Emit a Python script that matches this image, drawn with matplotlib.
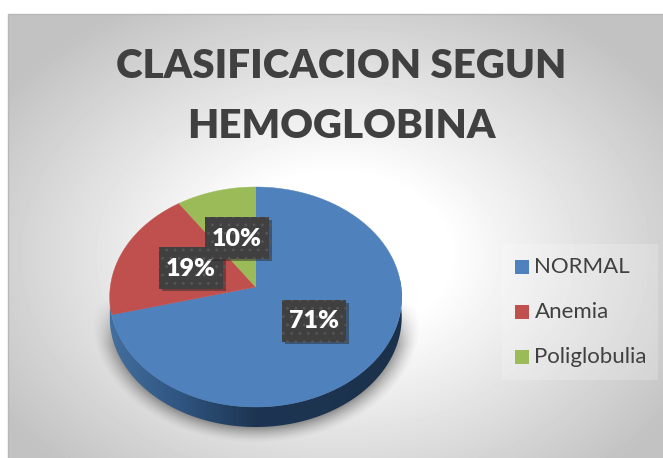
import numpy as np
import matplotlib
matplotlib.use('Agg')
import matplotlib.pyplot as plt
import matplotlib.patheffects as pe
from matplotlib.colors import LinearSegmentedColormap
from matplotlib.patches import Polygon, Rectangle

plt.rcParams['font.family'] = ['Lato', 'DejaVu Sans']
plt.rcParams['hatch.linewidth'] = 0.8

title_lines = ['CLASIFICACION SEGUN', 'HEMOGLOBINA']
categories = ['NORMAL', 'Anemia', 'Poliglobulia']
values = [71.0, 19.4, 9.6]
colors = ['#4f81bd', '#c0504d', '#9bbb59']

# pixel positions of the pie on the canvas
apex_x, apex_y = 255.7, 287.0
persp = 1 / 11
scale_x, scale_y = 145.4, 109.1
depth = 20


def rim(t):
    # t is clockwise from the top, in degrees, with a slight perspective
    t = np.radians(t)
    xx, yy = np.sin(t), np.cos(t)
    w = 1 + persp * yy
    return apex_x + scale_x * xx / w, apex_y - scale_y * yy / w


fig = plt.figure(figsize=(6.63, 4.58), dpi=100)
ax = fig.add_axes([0, 0, 1, 1])
ax.set_xlim(0, 663)
ax.set_ylim(458, 0)
ax.axis('off')

# background with radial gradient
gx, gy = np.meshgrid(np.arange(8, 663), np.arange(14, 458))
dist = np.sqrt(((gx - 335) / 400) ** 2 + ((gy - 255) / 290) ** 2)
grey = np.clip(1.0 - 0.24 * np.clip((dist - 0.28) / 0.72, 0, 1), 0, 1)
ax.imshow(grey, extent=(8, 663, 458, 14), cmap='gray', vmin=0, vmax=1,
          aspect='auto', zorder=0)
ax.plot([8, 8, 663], [458, 14, 14], color='#b8b8b8', lw=1, zorder=1)

# soft shadow under the pie, fades out towards the top
sx, sy = np.meshgrid(np.arange(90, 425), np.arange(290, 445))
d = np.sqrt(((sx - 256) / 156) ** 2 + ((sy - 320) / 116) ** 2)
shadow = np.zeros(d.shape + (4,))
shadow[..., 3] = 0.38 * np.clip((1.06 - d) / 0.14, 0, 1) ** 1.5 * np.clip((sy - 300) / 45, 0, 1)
ax.imshow(shadow, extent=(90, 425, 445, 290), aspect='auto', zorder=2)

# side wall of the pie, only the front is visible
t_side = np.linspace(80, 262, 200)
top_x, top_y = rim(t_side)
side_xy = np.vstack([np.column_stack([top_x, top_y]),
                     np.column_stack([top_x[::-1], top_y[::-1] + depth])])
side_cmap = LinearSegmentedColormap.from_list(
    'side', ['#44709f', '#2f5580', '#1d3552', '#1c3450', '#1b304a'])
side_im = ax.imshow(np.linspace(0, 1, 300).reshape(1, -1), cmap=side_cmap,
                    extent=(105, 405, 440, 280), aspect='auto', zorder=3)
side_im.set_clip_path(Polygon(side_xy, transform=ax.transData))

# top of the pie
start = 0.0
for val, col in zip(values, colors):
    stop = start + val / sum(values) * 360
    rx, ry = rim(np.linspace(start, stop, 200))
    ax.add_patch(Polygon(np.column_stack([np.r_[apex_x, rx], np.r_[apex_y, ry]]),
                         facecolor=col, edgecolor=col, lw=0.3, zorder=4))
    start = stop

# data labels, dark boxes with a dotted pattern
label_boxes = [(282, 300), (159, 247), (205, 217)]
for i, (val, (bx, by)) in enumerate(zip(values, label_boxes)):
    box = Rectangle((bx, by), 64, 41.5, facecolor='#404040', edgecolor='#565656',
                    hatch='..', lw=0, zorder=5 + i)
    box.set_path_effects([pe.SimplePatchShadow(offset=(2, -2), shadow_rgbFace='#222222',
                                               alpha=0.45), pe.Normal()])
    ax.add_patch(box)
    ax.text(bx + 32, by + 21.5, f'{val:.0f}%', color='white', fontsize=18,
            fontweight='heavy', ha='center', va='center', zorder=5 + i)

# title
for line, y in zip(title_lines, [67, 127]):
    ax.text(341, y, line, color='#404040', fontsize=29, fontweight='heavy',
            ha='center', va='center', zorder=5)

# legend
ax.add_patch(Rectangle((502, 244), 156, 136, facecolor='white', alpha=0.2,
                       lw=0, zorder=1))
for cat, col, y in zip(categories, colors, [267, 312, 357]):
    ax.add_patch(Rectangle((515, y - 7), 14, 14, facecolor=col, lw=0, zorder=5))
    ax.text(534.5, y, cat, color='#404040', fontsize=16, ha='left', va='center',
            zorder=5)

fig.savefig('out.png', dpi=100)
